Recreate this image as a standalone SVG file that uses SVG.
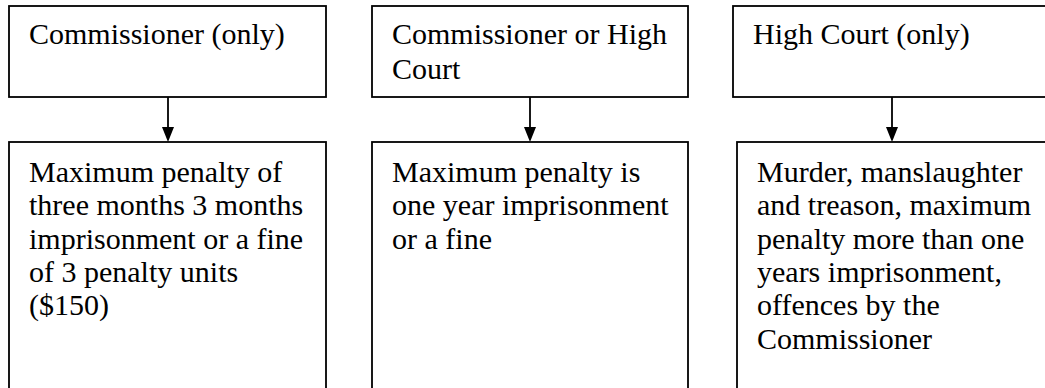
<svg xmlns="http://www.w3.org/2000/svg" width="1045" height="388" viewBox="0 0 1045 388">
<style>
.box{fill:#fff;stroke:#000;stroke-width:1.8}
.t{font-family:"Liberation Serif","Times New Roman",serif;font-size:30px;fill:#000}
.c{stroke:#000;stroke-width:1.8;fill:none}
</style>
<defs>
<marker id="ah" markerWidth="12" markerHeight="15" refX="6" refY="15" orient="auto" markerUnits="userSpaceOnUse" viewBox="0 0 12 15">
<path d="M0,0 L12,0 L6,15 Z" fill="#000" transform="rotate(-90 6 7.5) translate(-1.5 1.5)"/>
</marker>
</defs>
<rect width="1045" height="388" fill="#fff"/>
<g id="connectors">
<line class="c" x1="168" y1="97" x2="168" y2="128"/>
<path d="M162,127 L174,127 L168,142 Z" fill="#000"/>
<line class="c" x1="530" y1="97" x2="530" y2="128"/>
<path d="M524,127 L536,127 L530,142 Z" fill="#000"/>
<line class="c" x1="892" y1="97" x2="892" y2="128"/>
<path d="M886,127 L898,127 L892,142 Z" fill="#000"/>
</g>
<g id="n1">
<rect class="box" x="9" y="6" width="317" height="91"/>
<text class="t" x="29" y="44">Commissioner (only)</text>
</g>
<g id="n2">
<rect class="box" x="372" y="6" width="316" height="91"/>
<text class="t" x="392" y="44">Commissioner or High</text>
<text class="t" x="392" y="79">Court</text>
</g>
<g id="n3">
<rect class="box" x="733" y="6" width="330" height="91"/>
<text class="t" x="753" y="44">High Court (only)</text>
</g>
<g id="n4">
<rect class="box" x="9" y="142" width="317" height="260"/>
<text class="t" x="29" y="182">Maximum penalty of</text>
<text class="t" x="29" y="215.3">three months 3 months</text>
<text class="t" x="29" y="248.6">imprisonment or a fine</text>
<text class="t" x="29" y="282">of 3 penalty units</text>
<text class="t" x="29" y="315.3">($150)</text>
</g>
<g id="n5">
<rect class="box" x="372" y="142" width="316" height="260"/>
<text class="t" x="392" y="182">Maximum penalty is</text>
<text class="t" x="392" y="215.3">one year imprisonment</text>
<text class="t" x="392" y="248.6">or a fine</text>
</g>
<g id="n6">
<rect class="box" x="737" y="142" width="330" height="260"/>
<text class="t" x="757" y="182">Murder, manslaughter</text>
<text class="t" x="757" y="215.3">and treason, maximum</text>
<text class="t" x="757" y="248.6">penalty more than one</text>
<text class="t" x="757" y="282">years imprisonment,</text>
<text class="t" x="757" y="315.3">offences by the</text>
<text class="t" x="757" y="348.6">Commissioner</text>
</g>
</svg>
